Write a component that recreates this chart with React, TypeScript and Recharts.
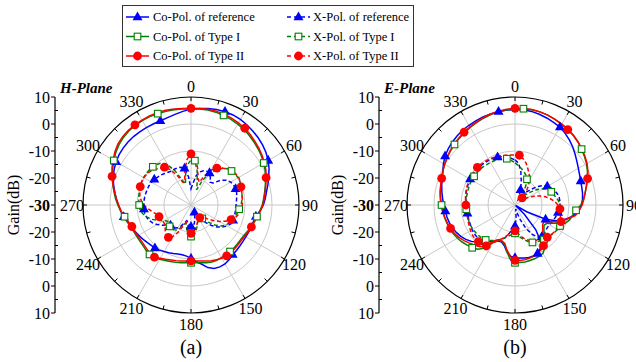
import type { ReactElement } from "react";
import { PolarAngleAxis, PolarGrid, PolarRadiusAxis, Radar, RadarChart } from "recharts";

// 5-degree angle grid, clockwise from the top
const ANGLES: number[] = Array.from({ length: 72 }, (_, i) => i * 5);
const GAIN_TICKS = [10, 0, -10, -20, -30, -20, -10, 0, 10];

// ---- H-plane (dB) ----
const hRefCo = [
  5.5, 5.9, 6.3, 6.6, 6.8, 6.8, 6.6, 6.2, 5.7, 5.2, 4.6, 3.9,
  3.0, 1.9, 0.6, -0.5, -1.6, -2.4, -3.2, -4.4, -5.6, -6.1, -6.3, -6.4,
  -6.5, -6.5, -6.4, -6.2, -6.0, -5.3, -4.8, -4.7, -5.0, -6.0, -7.8, -9.0,
  -10.2, -11.0, -11.3, -11.2, -10.9, -10.5, -10.1, -9.6, -9.2, -9.0, -8.6, -8.1,
  -7.6, -7.1, -6.5, -5.6, -4.7, -3.9, -3.1, -2.2, -1.3, -0.3, 0.6, 1.4,
  2.0, 2.5, 2.8, 3.0, 3.1, 3.1, 3.1, 3.1, 3.2, 3.5, 4.1, 4.8,
];
const hRefX = [
  -24, -22, -19, -17.3, -16.5, -16.2, -16.3, -17.5, -19, -18.5, -15.8, -14,
  -13, -12.6, -12.4, -12.5, -12.8, -13.1, -13.3, -13.4, -13.4, -13.4, -13.4, -13.6,
  -14.5, -15.8, -17.3, -19.3, -21.5, -24, -26.5, -27, -26, -24.5, -23, -22.3,
  -22, -22.5, -23.5, -24, -23, -21.5, -20.3, -19.6, -19.3, -19.3, -18.5, -17,
  -15.5, -14.3, -13.4, -12.9, -12.6, -12.5, -12.5, -12.5, -12.6, -12.7, -12.8, -12.9,
  -13.1, -13.4, -13.9, -14.3, -14.8, -15.2, -15.5, -15.4, -15.3, -15.5, -16.2, -19.5,
];
const hT1Co = [
  5.6, 5.7, 5.7, 5.6, 5.3, 5.0, 4.6, 4.2, 3.6, 3.0, 2.4, 1.8,
  1.1, 0.3, -0.6, -1.5, -2.3, -3.0, -3.6, -4.4, -5.2, -5.8, -6.4, -6.9,
  -7.4, -7.6, -7.6, -7.5, -7.5, -7.5, -7.5, -7.4, -7.5, -7.9, -8.3, -8.5,
  -8.6, -8.5, -8.3, -8.0, -7.7, -7.3, -6.8, -6.2, -6.1, -6.4, -6.7, -6.8,
  -6.8, -6.6, -6.3, -5.7, -5.0, -3.9, -2.9, -1.9, -1.0, 0.0, 1.0, 2.0,
  3.0, 4.0, 4.8, 5.4, 5.8, 6.0, 6.1, 6.1, 6.0, 5.9, 5.8, 5.7,
];
const hT1X = [
  -13.3, -13.5, -17, -21, -24, -20, -16.5, -14, -12.3, -11, -10.4, -10,
  -9.8, -9.9, -10.2, -10.5, -10.8, -11.1, -11.5, -12.1, -12.6, -13.3, -14, -14.5,
  -15, -16.5, -18.5, -21, -23.5, -25, -25, -24, -23, -21.5, -20, -18.8,
  -18.3, -19, -21, -23, -22.5, -20.5, -19.3, -18.8, -18.6, -18.8, -19.3, -19.5,
  -18.5, -16.5, -14.5, -13, -11.8, -11, -10.8, -10.6, -10.4, -10.2, -10, -9.8,
  -9.7, -9.7, -9.8, -10, -10.4, -11, -13, -16, -20, -22, -18.5, -15,
];
const hT2Co = [
  5.8, 5.9, 6.0, 6.0, 5.8, 5.5, 5.1, 4.7, 4.1, 3.4, 2.8, 2.1,
  1.4, 0.6, -0.4, -1.3, -2.1, -2.8, -3.4, -4.2, -5.0, -5.7, -6.2, -6.6,
  -7.0, -7.2, -7.2, -7.1, -7.0, -7.0, -7.2, -7.6, -8.0, -8.5, -8.9, -9.2,
  -9.3, -9.2, -8.9, -8.6, -8.3, -7.8, -7.2, -6.4, -6.5, -6.9, -7.2, -7.3,
  -7.2, -7.0, -6.7, -6.0, -5.0, -4.0, -3.2, -2.2, -1.2, 0.0, 1.1, 2.3,
  3.3, 4.4, 5.3, 5.8, 6.1, 6.2, 6.3, 6.4, 6.4, 6.3, 6.1, 5.9,
];
const hT2X = [
  -11.1, -12.5, -16, -20, -21, -18, -15, -13.3, -12.1, -11.1, -10.3, -9.8,
  -9.6, -9.8, -10.3, -10.6, -10.8, -10.9, -11.0, -11.3, -11.8, -12.8, -14.2, -15.8,
  -17.8, -20.0, -22.0, -23.5, -24.3, -24.3, -24.0, -23.5, -23.0, -22.0, -21.0, -20.0,
  -19.5, -20.5, -22.5, -23.5, -22.0, -19.0, -16.5, -15.4, -15.6, -16.5, -17.5, -18.0,
  -18.0, -17.8, -17.4, -16.8, -15.5, -14.0, -12.5, -11.5, -10.8, -10.3, -10.0, -9.8,
  -9.8, -10.0, -10.5, -11.3, -12.2, -12.9, -15.0, -18.0, -21.0, -21.0, -17.0, -13.0,
];

// ---- E-plane (dB) ----
const eRefCo = [
  5.4, 5.4, 5.2, 4.8, 4.3, 3.8, 3.3, 2.4, 1.4, 0.3, -0.9, -2.0,
  -2.9, -3.6, -4.1, -4.4, -4.6, -4.9, -5.4, -6.2, -7.8, -10.2, -12.5, -17.5,
  -25.0, -29.5, -29.5, -25.0, -18.0, -13.4, -11.3, -10.2, -9.9, -9.9, -10.1, -10.3,
  -10.4, -11.0, -12.5, -14.5, -15.4, -15.3, -14.6, -13.5, -12.3, -10.8, -9.0, -7.8,
  -6.8, -6.0, -5.3, -4.8, -4.4, -4.1, -3.6, -3.1, -2.5, -1.9, -1.3, -0.5,
  0.6, 1.6, 2.3, 2.9, 3.4, 3.8, 4.1, 4.4, 4.7, 4.9, 5.1, 5.3,
];
const eRefX = [
  -13.3, -14.5, -17.5, -21, -24, -26.5, -27.5, -26, -24, -22, -19.5, -17.5,
  -16.2, -15.2, -14.4, -13.8, -13.4, -13.3, -13.3, -13.5, -13.8, -14.2, -14.6, -15,
  -15.3, -15.4, -15.2, -14.8, -14.6, -15.5, -17.5, -20.5, -24, -27, -28.5, -25,
  -22.2, -22, -19.8, -17.9, -16.5, -15.3, -14.3, -13.3, -12.2, -11.8, -11.6, -11.5,
  -11.7, -11.9, -12, -12.1, -12.1, -12, -11.9, -11.7, -11.5, -11.3, -11.1, -11,
  -10.8, -10.7, -10.7, -10.7, -10.7, -10.8, -10.8, -10.9, -11.1, -11.5, -11.9, -12.6,
];
const eT1Co = [
  5.6, 5.8, 5.8, 5.7, 5.4, 5.0, 4.6, 4.2, 3.7, 3.0, 2.2, 1.4,
  0.6, -0.4, -1.5, -2.6, -3.6, -4.5, -5.6, -7.3, -8.3, -9.0, -10.2, -14.0,
  -16.4, -16.9, -16.0, -14.8, -13.3, -10.7, -9.3, -9.0, -8.8, -8.7, -8.6, -8.6,
  -8.6, -9.8, -12.5, -15.0, -15.6, -15.5, -14.0, -10.5, -8.6, -7.6, -6.9, -6.1,
  -5.4, -4.8, -4.3, -3.9, -3.5, -3.1, -2.8, -2.4, -2.0, -1.6, -1.1, -0.5,
  0.1, 0.7, 1.2, 1.7, 2.2, 2.7, 3.2, 3.7, 4.2, 4.7, 5.1, 5.4,
];
const eT1X = [
  -14.4, -15.4, -16.3, -17.2, -18.2, -19.5, -22.2, -24.4, -25.6, -24.8, -22.6, -20.0,
  -17.8, -16.5, -15.7, -15.2, -14.4, -13.8, -13.3, -12.9, -12.6, -12.4, -12.2, -11.6,
  -11.8, -12.2, -12.6, -13.0, -13.4, -13.8, -14.2, -14.7, -15.5, -16.7, -17.7, -18.7,
  -19.5, -19.2, -18.5, -17.6, -16.7, -15.7, -14.8, -13.9, -13.1, -12.7, -12.4, -12.2,
  -12.0, -11.9, -11.9, -11.9, -11.9, -11.9, -11.9, -11.9, -11.8, -11.8, -11.7, -11.6,
  -11.5, -11.5, -11.5, -11.5, -11.6, -11.7, -11.8, -11.9, -12.0, -12.2, -12.6, -13.4,
];
const eT2Co = [
  5.8, 5.9, 5.9, 5.7, 5.4, 5.0, 4.6, 4.1, 3.6, 3.0, 2.3, 1.6,
  0.8, -0.2, -1.4, -2.6, -3.6, -4.4, -5.1, -6.2, -7.3, -10.0, -11.9, -15.4,
  -17.6, -17.5, -16.6, -15.5, -14.0, -11.6, -10.8, -10.2, -9.8, -9.6, -9.4, -9.4,
  -9.5, -10.8, -13.0, -15.3, -15.9, -15.9, -14.6, -11.5, -9.8, -8.9, -8.0, -7.0,
  -6.0, -5.2, -4.6, -4.1, -3.6, -3.1, -2.6, -2.2, -1.8, -1.5, -1.1, -0.5,
  0.1, 0.7, 1.3, 1.9, 2.4, 2.9, 3.4, 3.9, 4.4, 4.9, 5.3, 5.6,
];
const eT2X = [
  -11.5, -11.5, -12.6, -14, -15.9, -17.5, -19.3, -21.3, -23.6, -26.3, -27.2, -26.2,
  -24.5, -22.3, -20.2, -18.3, -16.7, -15.2, -14.1, -13.3, -12.9, -12.6, -12.4, -12.3,
  -12.3, -12.4, -12.7, -13.1, -13.6, -14.2, -14.8, -15.4, -16.2, -17.2, -18.4, -19.6,
  -20.4, -20.2, -19.3, -18.3, -16.9, -15.5, -13.9, -12.4, -11.5, -10.8, -10.6, -10.7,
  -11.0, -11.3, -11.6, -11.8, -11.9, -11.9, -11.8, -11.6, -11.4, -11.2, -11.0, -10.8,
  -10.6, -10.5, -10.4, -10.3, -10.3, -10.4, -10.5, -10.7, -10.9, -11.1, -11.3, -11.4,
];

// angles (deg) that carry a marker
const hMarks: Record<string, number[]> = {
  refCo: [20, 60, 100, 140, 180, 220, 260, 300, 340],
  refX: [30, 70, 110, 155, 180, 225, 265, 305, 350],
  t1Co: [20, 60, 100, 140, 180, 220, 260, 300, 340],
  t1X: [5, 50, 95, 140, 180, 225, 270, 315],
  t2Co: [0, 35, 70, 110, 145, 180, 215, 250, 290, 325],
  t2X: [0, 35, 70, 110, 145, 180, 215, 250, 290, 325],
};
const eMarks: Record<string, number[]> = {
  refCo: [30, 70, 115, 155, 180, 220, 265, 305, 350],
  refX: [20, 60, 100, 140, 180, 220, 260, 300, 340],
  t1Co: [5, 50, 95, 140, 180, 225, 270, 315],
  t1X: [25, 70, 115, 155, 180, 220, 265, 305, 350],
  t2Co: [0, 35, 70, 110, 145, 180, 215, 250, 290, 325],
  t2X: [5, 45, 95, 135, 180, 225, 270, 315],
};

const BLUE = "#0000ff";
const GREEN = "#008000";
const RED = "#ff0000";
const FONT = '"Liberation Serif", "Times New Roman", serif';

const CY = 205;
const R = 108;
const RING = 27;

type Shape = "tri" | "sq" | "dot";

interface SeriesDef {
  key: string;
  name: string;
  color: string;
  dashed: boolean;
  shape: Shape;
}

const SERIES: SeriesDef[] = [
  { key: "refCo", name: "Co-Pol. of reference", color: BLUE, dashed: false, shape: "tri" },
  { key: "refX", name: "X-Pol. of reference", color: BLUE, dashed: true, shape: "tri" },
  { key: "t1Co", name: "Co-Pol. of Type I", color: GREEN, dashed: false, shape: "sq" },
  { key: "t1X", name: "X-Pol. of Type I", color: GREEN, dashed: true, shape: "sq" },
  { key: "t2Co", name: "Co-Pol. of Type II", color: RED, dashed: false, shape: "dot" },
  { key: "t2X", name: "X-Pol. of Type II", color: RED, dashed: true, shape: "dot" },
];

function rows(co: number[][]) {
  return ANGLES.map((angle, i) => ({
    angle,
    refCo: co[0][i],
    refX: co[1][i],
    t1Co: co[2][i],
    t1X: co[3][i],
    t2Co: co[4][i],
    t2X: co[5][i],
  }));
}

const hRows = rows([hRefCo, hRefX, hT1Co, hT1X, hT2Co, hT2X]);
const eRows = rows([eRefCo, eRefX, eT1Co, eT1X, eT2Co, eT2X]);

function Marker({ shape, color, x, y }: { shape: Shape; color: string; x: number; y: number }): ReactElement {
  if (shape === "tri") {
    return <path d={`M${x},${y - 5.6}L${x + 5},${y + 3.2}L${x - 5},${y + 3.2}Z`} fill={color} />;
  }
  if (shape === "sq") {
    return <rect x={x - 3.3} y={y - 3.3} width={6.6} height={6.6} fill="#fff" stroke={color} strokeWidth={1.1} />;
  }
  return <circle cx={x} cy={y} r={4.4} fill={color} />;
}

const makeDot = (s: SeriesDef, marks: number[]) => (props: any) => {
  const { cx, cy, index } = props;
  if (!marks.includes(index * 5) || cx == null) return <g key={`n${index}`} />;
  return (
    <g key={`m${index}`}>
      <Marker shape={s.shape} color={s.color} x={cx} y={cy} />
    </g>
  );
};

const makeAngleTick = (cx: number, cy: number) => (props: any) => {
  const a = Number(props.payload?.value);
  if (a % 15 !== 0) return <g />;
  const rad = (a * Math.PI) / 180;
  const sx = Math.sin(rad);
  const sy = -Math.cos(rad);
  return (
    <g>
      <line x1={cx + sx * R} y1={cy + sy * R} x2={cx + sx * (R - 4)} y2={cy + sy * (R - 4)} stroke="#000" strokeWidth={1} />
      {a % 30 === 0 && (
        <text x={cx + sx * 119} y={cy + sy * 119} textAnchor="middle" dominantBaseline="central" fontFamily={FONT} fontSize={16} fill="#000">
          {a}
        </text>
      )}
    </g>
  );
};

function PolarPanel({ data, marks, left, cx }: { data: any[]; marks: Record<string, number[]>; left: number; cx: number }): ReactElement {
  return (
    <div style={{ position: "absolute", left, top: 0 }}>
      <RadarChart width={318} height={362} data={data} cx={cx} cy={CY} outerRadius={R} margin={{ top: 0, right: 0, bottom: 0, left: 0 }}>
        <PolarGrid
          gridType="circle"
          polarRadius={[RING, RING * 2, RING * 3]}
          polarAngles={[0, 30, 60, 90, 120, 150, 180, 210, 240, 270, 300, 330]}
          innerRadius={13.5}
          stroke="#c8c8c8"
        />
        <PolarRadiusAxis domain={[-30, 10]} tick={false} axisLine={false} tickCount={5} />
        <PolarAngleAxis
          dataKey="angle"
          axisLineType="circle"
          axisLine={{ stroke: "#000", strokeWidth: 1.2 }}
          tickLine={false}
          tick={makeAngleTick(cx, CY)}
        />
        {SERIES.map((s) => (
          <Radar
            key={s.key}
            dataKey={s.key}
            stroke={s.color}
            strokeWidth={1.5}
            strokeDasharray={s.dashed ? "4 2.5" : undefined}
            fill="none"
            fillOpacity={0}
            dot={makeDot(s, marks[s.key])}
            isAnimationActive={false}
          />
        ))}
      </RadarChart>
    </div>
  );
}

function GainAxis({ x }: { x: number }): ReactElement {
  const top = CY - R;
  return (
    <g fontFamily={FONT} fontSize={16}>
      <line x1={x} y1={top} x2={x} y2={CY + R} stroke="#000" strokeWidth={1.2} />
      {GAIN_TICKS.map((v, i) => (
        <g key={`g${i}`}>
          <line x1={x - 4} y1={top + i * RING} x2={x} y2={top + i * RING} stroke="#000" />
          <text x={x - 5} y={top + i * RING} textAnchor="end" dominantBaseline="central" fontWeight={v === -30 ? "bold" : "normal"}>
            {v}
          </text>
        </g>
      ))}
      {GAIN_TICKS.slice(1).map((_, i) => (
        <line key={`m${i}`} x1={x} y1={top + RING / 2 + i * RING} x2={x + 3} y2={top + RING / 2 + i * RING} stroke="#000" />
      ))}
      <text x={x - 42} y={CY} textAnchor="middle" dominantBaseline="central" transform={`rotate(-90 ${x - 42} ${CY})`}>
        Gain(dB)
      </text>
    </g>
  );
}

function Legend(): ReactElement {
  const rowsY = [17, 36.5, 56];
  return (
    <g fontFamily={FONT} fontSize={12.5}>
      <rect x={122.5} y={5.5} width={291} height={61} fill="#fff" stroke="#333" strokeWidth={1} />
      {SERIES.map((s, i) => {
        const row = Math.floor(i / 2);
        const col = i % 2;
        const y = rowsY[row];
        const x0 = col === 0 ? 126 : 287;
        const tx = col === 0 ? 153 : 313;
        return (
          <g key={s.key}>
            <line x1={x0} y1={y} x2={x0 + 23} y2={y} stroke={s.color} strokeWidth={1.5} strokeDasharray={s.dashed ? "4 3" : undefined} />
            <Marker shape={s.shape} color={s.color} x={x0 + 11.5} y={y} />
            <text x={tx} y={y} dominantBaseline="central" fill="#000">
              {s.name}
            </text>
          </g>
        );
      })}
    </g>
  );
}

export default function App(): ReactElement {
  return (
    <div style={{ position: "relative", width: 636, height: 362, background: "#fff", overflow: "hidden" }}>
      <style>{"body{margin:0}"}</style>
      <PolarPanel data={hRows} marks={hMarks} left={0} cx={191} />
      <PolarPanel data={eRows} marks={eMarks} left={318} cx={197} />
      <svg width={636} height={362} style={{ position: "absolute", left: 0, top: 0, pointerEvents: "none" }}>
        <GainAxis x={55} />
        <GainAxis x={379} />
        <text x={60} y={88} fontFamily={FONT} fontSize={15} fontWeight="bold" fontStyle="italic" dominantBaseline="central">
          H-Plane
        </text>
        <text x={384} y={88} fontFamily={FONT} fontSize={15} fontWeight="bold" fontStyle="italic" dominantBaseline="central">
          E-Plane
        </text>
        <text x={191} y={347} fontFamily={FONT} fontSize={20} textAnchor="middle" dominantBaseline="central">
          (a)
        </text>
        <text x={515} y={347} fontFamily={FONT} fontSize={20} textAnchor="middle" dominantBaseline="central">
          (b)
        </text>
        <Legend />
      </svg>
    </div>
  );
}
